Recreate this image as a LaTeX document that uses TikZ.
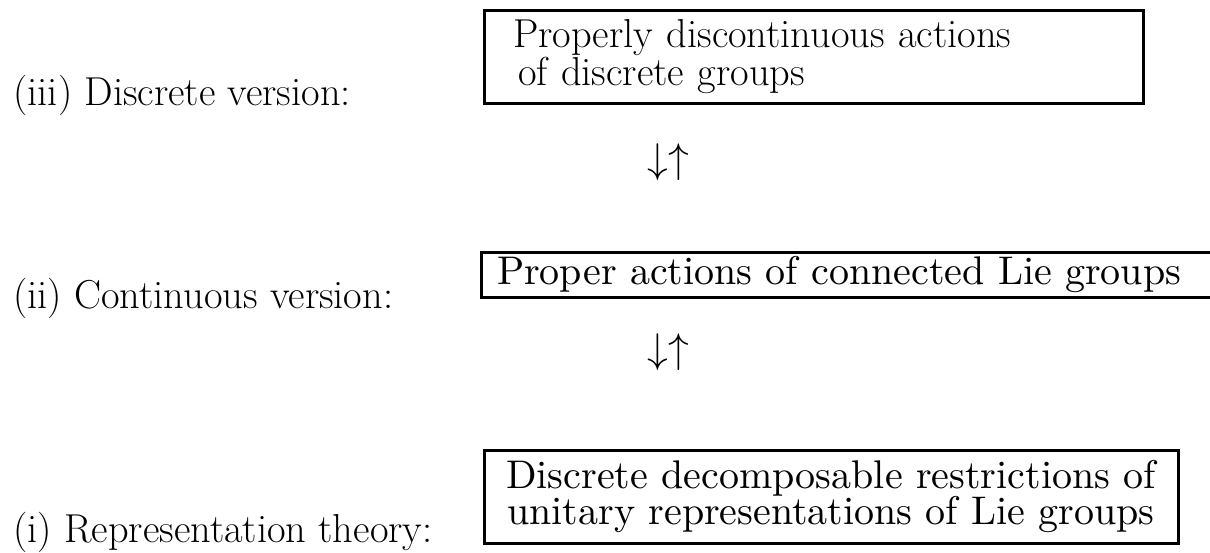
\documentclass[tikz,border=0pt]{standalone}
\usepackage{tikz}
\usetikzlibrary{positioning}
\usepackage{amssymb,amsmath}

\begin{document}
\begin{tikzpicture}[x=0.5pt,y=-0.5pt,
    box node/.style={draw,line width=1.5pt,inner ysep=0pt},
    wide text/.style={scale=2,font=\fontsize{10}{9.2}\selectfont},
    level node/.style={anchor=base west,inner sep=0pt,
      font=\fontsize{20.2}{24}\selectfont},
    sign node/.style={font=\fontsize{20}{24}\selectfont}]
    \useasboundingbox (0,0) rectangle (1210,552);
    \node[box node,font=\fontsize{20.2}{17.5}\selectfont,
      minimum width=329.5pt,minimum height=46.5pt,
      text width=300.5pt,inner xsep=14.5pt,align=left] (disc) at (813.5,56.5)
      {Properly discontinuous actions\\ \hspace{2.5pt}of discrete groups};
    \node[box node,wide text,minimum width=183.5pt,minimum height=11.25pt,
      text width=175.5pt,inner xsep=4pt,align=left] (cont) at (848,274.5)
      {Proper actions of connected Lie groups};
    \node[box node,wide text,minimum width=173.5pt,minimum height=23.25pt,
      text width=165pt,inner xsep=4.25pt,align=center] (rep) at (831,496.5)
      {Discrete decomposable restrictions of\\ unitary representations of Lie groups};
    \node[level node] (lab_disc) at (13,105) {(iii) Discrete version:};
    \node[level node] (lab_cont) at (13,308) {(ii) Continuous version:};
    \node[level node] (lab_rep) at (13,542) {(i) Representation theory:};
    \node[sign node] (arr_up) at (668,162) {$\downarrow\uparrow$};
    \node[sign node] (arr_low) at (668,352) {$\downarrow\uparrow$};
  \end{tikzpicture}
\end{document}
